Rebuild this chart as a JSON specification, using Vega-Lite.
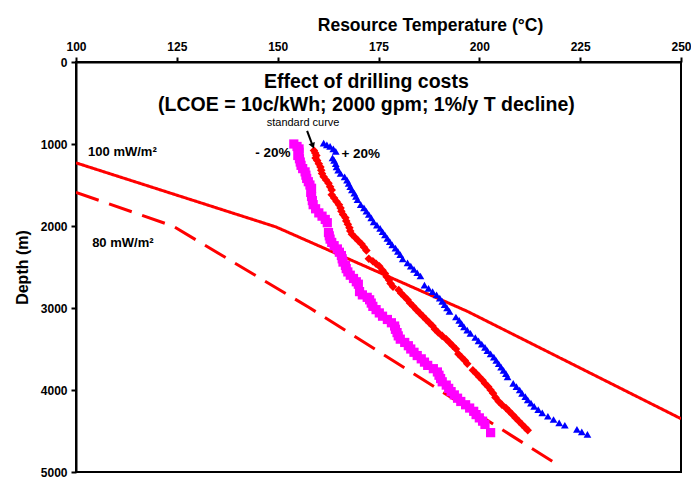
{
  "$schema": "https://vega.github.io/schema/vega-lite/v6.json",
  "width": 605,
  "height": 410,
  "autosize": {"type": "none"},
  "padding": {"left": 76, "top": 62, "right": 10, "bottom": 6},
  "config": {
    "font": "Liberation Sans",
    "view": {"stroke": "black", "strokeWidth": 2},
    "axis": {
      "grid": false,
      "domainColor": "black",
      "domainWidth": 2,
      "tickColor": "black",
      "tickWidth": 2,
      "tickSize": 5,
      "labelColor": "black",
      "labelFont": "Liberation Sans",
      "labelFontSize": 12,
      "labelFontWeight": "bold",
      "labelFlush": false,
      "titleColor": "black",
      "titleFont": "Liberation Sans",
      "titleFontWeight": "bold"
    }
  },
  "datasets": {
    "gradients": [
      {"curve": "100 mW/m2", "temp": 100, "depth": 1230},
      {"curve": "100 mW/m2", "temp": 149.5, "depth": 2010},
      {"curve": "100 mW/m2", "temp": 197, "depth": 3040},
      {"curve": "100 mW/m2", "temp": 250, "depth": 4350},
      {"curve": "80 mW/m2", "temp": 100, "depth": 1590},
      {"curve": "80 mW/m2", "temp": 124, "depth": 2000},
      {"curve": "80 mW/m2", "temp": 158, "depth": 3000},
      {"curve": "80 mW/m2", "temp": 220, "depth": 4930}
    ],
    "costs": [
      {"series": "-20%", "depth": 1000, "temp": 154.0},
      {"series": "-20%", "depth": 1030, "temp": 154.8},
      {"series": "-20%", "depth": 1060, "temp": 155.3},
      {"series": "-20%", "depth": 1100, "temp": 155.3},
      {"series": "-20%", "depth": 1140, "temp": 155.0},
      {"series": "-20%", "depth": 1180, "temp": 155.4},
      {"series": "-20%", "depth": 1220, "temp": 155.6},
      {"series": "-20%", "depth": 1260, "temp": 155.8},
      {"series": "-20%", "depth": 1300, "temp": 156.2},
      {"series": "-20%", "depth": 1340, "temp": 156.8},
      {"series": "-20%", "depth": 1380, "temp": 157.0},
      {"series": "-20%", "depth": 1420, "temp": 157.2},
      {"series": "-20%", "depth": 1460, "temp": 157.6},
      {"series": "-20%", "depth": 1500, "temp": 158.0},
      {"series": "-20%", "depth": 1540, "temp": 158.4},
      {"series": "-20%", "depth": 1590, "temp": 158.2},
      {"series": "-20%", "depth": 1640, "temp": 158.4},
      {"series": "-20%", "depth": 1690, "temp": 158.6},
      {"series": "-20%", "depth": 1740, "temp": 158.8},
      {"series": "-20%", "depth": 1790, "temp": 159.4},
      {"series": "-20%", "depth": 1840, "temp": 160.2},
      {"series": "-20%", "depth": 1880, "temp": 161.0},
      {"series": "-20%", "depth": 1920, "temp": 161.8},
      {"series": "-20%", "depth": 1960, "temp": 162.3},
      {"series": "-20%", "depth": 2080, "temp": 162.6},
      {"series": "-20%", "depth": 2120, "temp": 162.8},
      {"series": "-20%", "depth": 2160, "temp": 163.0},
      {"series": "-20%", "depth": 2200, "temp": 163.4},
      {"series": "-20%", "depth": 2240, "temp": 164.0},
      {"series": "-20%", "depth": 2280, "temp": 164.8},
      {"series": "-20%", "depth": 2320, "temp": 165.3},
      {"series": "-20%", "depth": 2360, "temp": 165.8},
      {"series": "-20%", "depth": 2400, "temp": 166.0},
      {"series": "-20%", "depth": 2440, "temp": 166.2},
      {"series": "-20%", "depth": 2480, "temp": 166.8},
      {"series": "-20%", "depth": 2520, "temp": 167.0},
      {"series": "-20%", "depth": 2560, "temp": 167.4},
      {"series": "-20%", "depth": 2600, "temp": 168.0},
      {"series": "-20%", "depth": 2640, "temp": 168.8},
      {"series": "-20%", "depth": 2680, "temp": 169.5},
      {"series": "-20%", "depth": 2710, "temp": 170.0},
      {"series": "-20%", "depth": 2800, "temp": 170.3},
      {"series": "-20%", "depth": 2840, "temp": 171.0},
      {"series": "-20%", "depth": 2870, "temp": 172.2},
      {"series": "-20%", "depth": 2900, "temp": 172.8},
      {"series": "-20%", "depth": 2940, "temp": 173.2},
      {"series": "-20%", "depth": 2980, "temp": 173.6},
      {"series": "-20%", "depth": 3020, "temp": 174.4},
      {"series": "-20%", "depth": 3060, "temp": 175.2},
      {"series": "-20%", "depth": 3100, "temp": 176.0},
      {"series": "-20%", "depth": 3140, "temp": 177.2},
      {"series": "-20%", "depth": 3180, "temp": 178.2},
      {"series": "-20%", "depth": 3220, "temp": 179.0},
      {"series": "-20%", "depth": 3260, "temp": 179.2},
      {"series": "-20%", "depth": 3300, "temp": 179.6},
      {"series": "-20%", "depth": 3340, "temp": 179.9},
      {"series": "-20%", "depth": 3380, "temp": 180.4},
      {"series": "-20%", "depth": 3420, "temp": 181.5},
      {"series": "-20%", "depth": 3460, "temp": 182.4},
      {"series": "-20%", "depth": 3500, "temp": 183.0},
      {"series": "-20%", "depth": 3540, "temp": 183.8},
      {"series": "-20%", "depth": 3580, "temp": 184.6},
      {"series": "-20%", "depth": 3620, "temp": 185.6},
      {"series": "-20%", "depth": 3660, "temp": 186.4},
      {"series": "-20%", "depth": 3700, "temp": 187.2},
      {"series": "-20%", "depth": 3740, "temp": 188.6},
      {"series": "-20%", "depth": 3780, "temp": 189.6},
      {"series": "-20%", "depth": 3820, "temp": 190.0},
      {"series": "-20%", "depth": 3860, "temp": 190.4},
      {"series": "-20%", "depth": 3900, "temp": 190.8},
      {"series": "-20%", "depth": 3940, "temp": 191.8},
      {"series": "-20%", "depth": 3980, "temp": 192.4},
      {"series": "-20%", "depth": 4020, "temp": 193.0},
      {"series": "-20%", "depth": 4060, "temp": 193.8},
      {"series": "-20%", "depth": 4100, "temp": 194.6},
      {"series": "-20%", "depth": 4140, "temp": 195.4},
      {"series": "-20%", "depth": 4180, "temp": 196.6},
      {"series": "-20%", "depth": 4220, "temp": 197.6},
      {"series": "-20%", "depth": 4260, "temp": 198.6},
      {"series": "-20%", "depth": 4300, "temp": 199.2},
      {"series": "-20%", "depth": 4340, "temp": 200.0},
      {"series": "-20%", "depth": 4380, "temp": 200.8},
      {"series": "-20%", "depth": 4420, "temp": 201.4},
      {"series": "-20%", "depth": 4520, "temp": 202.8},

      {"series": "standard", "depth": 1080, "temp": 159.0},
      {"series": "standard", "depth": 1110, "temp": 159.3},
      {"series": "standard", "depth": 1140, "temp": 159.6},
      {"series": "standard", "depth": 1170, "temp": 159.4},
      {"series": "standard", "depth": 1200, "temp": 159.8},
      {"series": "standard", "depth": 1240, "temp": 160.2},
      {"series": "standard", "depth": 1280, "temp": 160.6},
      {"series": "standard", "depth": 1320, "temp": 160.8},
      {"series": "standard", "depth": 1360, "temp": 161.0},
      {"series": "standard", "depth": 1400, "temp": 161.4},
      {"series": "standard", "depth": 1440, "temp": 162.0},
      {"series": "standard", "depth": 1480, "temp": 162.6},
      {"series": "standard", "depth": 1520, "temp": 163.0},
      {"series": "standard", "depth": 1560, "temp": 163.4},
      {"series": "standard", "depth": 1620, "temp": 163.4},
      {"series": "standard", "depth": 1660, "temp": 164.0},
      {"series": "standard", "depth": 1700, "temp": 164.6},
      {"series": "standard", "depth": 1740, "temp": 165.2},
      {"series": "standard", "depth": 1780, "temp": 165.6},
      {"series": "standard", "depth": 1820, "temp": 165.8},
      {"series": "standard", "depth": 1860, "temp": 166.2},
      {"series": "standard", "depth": 1900, "temp": 166.8},
      {"series": "standard", "depth": 1940, "temp": 167.0},
      {"series": "standard", "depth": 1980, "temp": 167.4},
      {"series": "standard", "depth": 2020, "temp": 167.8},
      {"series": "standard", "depth": 2060, "temp": 168.0},
      {"series": "standard", "depth": 2100, "temp": 168.4},
      {"series": "standard", "depth": 2140, "temp": 169.2},
      {"series": "standard", "depth": 2180, "temp": 170.0},
      {"series": "standard", "depth": 2220, "temp": 170.8},
      {"series": "standard", "depth": 2260, "temp": 171.4},
      {"series": "standard", "depth": 2300, "temp": 172.0},
      {"series": "standard", "depth": 2400, "temp": 172.6},
      {"series": "standard", "depth": 2430, "temp": 173.6},
      {"series": "standard", "depth": 2460, "temp": 174.4},
      {"series": "standard", "depth": 2490, "temp": 175.2},
      {"series": "standard", "depth": 2540, "temp": 176.0},
      {"series": "standard", "depth": 2580, "temp": 176.6},
      {"series": "standard", "depth": 2620, "temp": 177.0},
      {"series": "standard", "depth": 2660, "temp": 177.6},
      {"series": "standard", "depth": 2700, "temp": 178.0},
      {"series": "standard", "depth": 2740, "temp": 178.6},
      {"series": "standard", "depth": 2780, "temp": 180.0},
      {"series": "standard", "depth": 2820, "temp": 180.6},
      {"series": "standard", "depth": 2860, "temp": 181.4},
      {"series": "standard", "depth": 2900, "temp": 182.2},
      {"series": "standard", "depth": 2940, "temp": 182.8},
      {"series": "standard", "depth": 2980, "temp": 183.6},
      {"series": "standard", "depth": 3020, "temp": 184.4},
      {"series": "standard", "depth": 3060, "temp": 185.2},
      {"series": "standard", "depth": 3100, "temp": 186.0},
      {"series": "standard", "depth": 3140, "temp": 186.8},
      {"series": "standard", "depth": 3180, "temp": 187.6},
      {"series": "standard", "depth": 3220, "temp": 188.4},
      {"series": "standard", "depth": 3260, "temp": 189.0},
      {"series": "standard", "depth": 3300, "temp": 189.8},
      {"series": "standard", "depth": 3340, "temp": 190.8},
      {"series": "standard", "depth": 3380, "temp": 191.8},
      {"series": "standard", "depth": 3420, "temp": 192.6},
      {"series": "standard", "depth": 3460, "temp": 193.4},
      {"series": "standard", "depth": 3500, "temp": 194.2},
      {"series": "standard", "depth": 3560, "temp": 194.8},
      {"series": "standard", "depth": 3600, "temp": 195.6},
      {"series": "standard", "depth": 3640, "temp": 196.4},
      {"series": "standard", "depth": 3680, "temp": 197.0},
      {"series": "standard", "depth": 3760, "temp": 198.4},
      {"series": "standard", "depth": 3800, "temp": 199.2},
      {"series": "standard", "depth": 3840, "temp": 200.0},
      {"series": "standard", "depth": 3880, "temp": 200.8},
      {"series": "standard", "depth": 3920, "temp": 201.4},
      {"series": "standard", "depth": 3960, "temp": 202.2},
      {"series": "standard", "depth": 4000, "temp": 202.8},
      {"series": "standard", "depth": 4040, "temp": 203.4},
      {"series": "standard", "depth": 4090, "temp": 204.0},
      {"series": "standard", "depth": 4140, "temp": 204.8},
      {"series": "standard", "depth": 4180, "temp": 205.6},
      {"series": "standard", "depth": 4220, "temp": 206.6},
      {"series": "standard", "depth": 4260, "temp": 207.4},
      {"series": "standard", "depth": 4300, "temp": 208.2},
      {"series": "standard", "depth": 4340, "temp": 209.0},
      {"series": "standard", "depth": 4380, "temp": 209.8},
      {"series": "standard", "depth": 4420, "temp": 210.6},
      {"series": "standard", "depth": 4460, "temp": 211.4},
      {"series": "standard", "depth": 4490, "temp": 212.0},

      {"series": "+20%", "depth": 990, "temp": 161.4},
      {"series": "+20%", "depth": 1010, "temp": 162.2},
      {"series": "+20%", "depth": 1030, "temp": 163.0},
      {"series": "+20%", "depth": 1060, "temp": 163.8},
      {"series": "+20%", "depth": 1090, "temp": 164.4},
      {"series": "+20%", "depth": 1170, "temp": 163.6},
      {"series": "+20%", "depth": 1200, "temp": 164.0},
      {"series": "+20%", "depth": 1240, "temp": 164.4},
      {"series": "+20%", "depth": 1280, "temp": 164.6},
      {"series": "+20%", "depth": 1320, "temp": 165.0},
      {"series": "+20%", "depth": 1360, "temp": 165.6},
      {"series": "+20%", "depth": 1400, "temp": 166.6},
      {"series": "+20%", "depth": 1440, "temp": 167.2},
      {"series": "+20%", "depth": 1480, "temp": 167.6},
      {"series": "+20%", "depth": 1520, "temp": 168.0},
      {"series": "+20%", "depth": 1560, "temp": 168.4},
      {"series": "+20%", "depth": 1600, "temp": 169.0},
      {"series": "+20%", "depth": 1640, "temp": 169.4},
      {"series": "+20%", "depth": 1680, "temp": 169.8},
      {"series": "+20%", "depth": 1740, "temp": 170.6},
      {"series": "+20%", "depth": 1780, "temp": 171.4},
      {"series": "+20%", "depth": 1820, "temp": 172.0},
      {"series": "+20%", "depth": 1860, "temp": 172.6},
      {"series": "+20%", "depth": 1900, "temp": 173.2},
      {"series": "+20%", "depth": 1950, "temp": 173.8},
      {"series": "+20%", "depth": 1990, "temp": 174.6},
      {"series": "+20%", "depth": 2030, "temp": 175.4},
      {"series": "+20%", "depth": 2070, "temp": 176.0},
      {"series": "+20%", "depth": 2110, "temp": 176.6},
      {"series": "+20%", "depth": 2150, "temp": 177.2},
      {"series": "+20%", "depth": 2190, "temp": 177.8},
      {"series": "+20%", "depth": 2230, "temp": 178.4},
      {"series": "+20%", "depth": 2270, "temp": 179.2},
      {"series": "+20%", "depth": 2310, "temp": 179.8},
      {"series": "+20%", "depth": 2350, "temp": 180.4},
      {"series": "+20%", "depth": 2400, "temp": 181.0},
      {"series": "+20%", "depth": 2450, "temp": 182.2},
      {"series": "+20%", "depth": 2490, "temp": 183.0},
      {"series": "+20%", "depth": 2530, "temp": 183.8},
      {"series": "+20%", "depth": 2570, "temp": 184.6},
      {"series": "+20%", "depth": 2610, "temp": 185.4},
      {"series": "+20%", "depth": 2720, "temp": 186.4},
      {"series": "+20%", "depth": 2760, "temp": 187.4},
      {"series": "+20%", "depth": 2800, "temp": 188.4},
      {"series": "+20%", "depth": 2840, "temp": 189.4},
      {"series": "+20%", "depth": 2880, "temp": 190.2},
      {"series": "+20%", "depth": 2920, "temp": 190.8},
      {"series": "+20%", "depth": 2960, "temp": 191.4},
      {"series": "+20%", "depth": 3000, "temp": 192.0},
      {"series": "+20%", "depth": 3040, "temp": 192.6},
      {"series": "+20%", "depth": 3110, "temp": 194.2},
      {"series": "+20%", "depth": 3150, "temp": 195.0},
      {"series": "+20%", "depth": 3190, "temp": 195.6},
      {"series": "+20%", "depth": 3230, "temp": 196.2},
      {"series": "+20%", "depth": 3270, "temp": 197.0},
      {"series": "+20%", "depth": 3310, "temp": 197.8},
      {"series": "+20%", "depth": 3360, "temp": 199.0},
      {"series": "+20%", "depth": 3400, "temp": 199.8},
      {"series": "+20%", "depth": 3440, "temp": 200.6},
      {"series": "+20%", "depth": 3480, "temp": 201.4},
      {"series": "+20%", "depth": 3520, "temp": 202.0},
      {"series": "+20%", "depth": 3560, "temp": 202.8},
      {"series": "+20%", "depth": 3600, "temp": 203.6},
      {"series": "+20%", "depth": 3640, "temp": 204.2},
      {"series": "+20%", "depth": 3680, "temp": 204.8},
      {"series": "+20%", "depth": 3720, "temp": 205.4},
      {"series": "+20%", "depth": 3760, "temp": 206.0},
      {"series": "+20%", "depth": 3800, "temp": 206.6},
      {"series": "+20%", "depth": 3840, "temp": 207.0},
      {"series": "+20%", "depth": 3920, "temp": 208.4},
      {"series": "+20%", "depth": 3960, "temp": 209.2},
      {"series": "+20%", "depth": 4000, "temp": 210.0},
      {"series": "+20%", "depth": 4040, "temp": 210.6},
      {"series": "+20%", "depth": 4080, "temp": 211.4},
      {"series": "+20%", "depth": 4120, "temp": 212.0},
      {"series": "+20%", "depth": 4160, "temp": 212.8},
      {"series": "+20%", "depth": 4200, "temp": 213.6},
      {"series": "+20%", "depth": 4240, "temp": 214.6},
      {"series": "+20%", "depth": 4280, "temp": 215.6},
      {"series": "+20%", "depth": 4320, "temp": 217.0},
      {"series": "+20%", "depth": 4360, "temp": 218.4},
      {"series": "+20%", "depth": 4400, "temp": 219.8},
      {"series": "+20%", "depth": 4430, "temp": 221.2},
      {"series": "+20%", "depth": 4480, "temp": 224.2},
      {"series": "+20%", "depth": 4510, "temp": 225.4},
      {"series": "+20%", "depth": 4540, "temp": 226.8}
    ],
    "headings": [
      {"text": "Effect of drilling costs", "temp": 172, "depth": 245},
      {"text": "(LCOE = 10c/kWh; 2000 gpm; 1%/y T decline)", "temp": 172, "depth": 525}
    ],
    "curveNotes": [
      {"text": "100 mW/m²", "temp": 103, "depth": 1098},
      {"text": "80 mW/m²", "temp": 104, "depth": 2207}
    ],
    "seriesNotes": [
      {"text": "- 20%", "temp": 148.8, "depth": 1110},
      {"text": "+ 20%", "temp": 170.6, "depth": 1120}
    ],
    "standardNote": [
      {"text": "standard curve", "temp": 156.3, "depth": 744}
    ],
    "pointer": [
      {"temp": 157.3, "depth": 840, "temp2": 158.6, "depth2": 1010}
    ],
    "pointerTip": [
      {"temp": 158.7, "depth": 1022}
    ]
  },
  "encoding": {
    "x": {
      "field": "temp",
      "type": "quantitative",
      "scale": {"domain": [100, 250], "nice": false, "zero": false},
      "axis": {
        "orient": "top",
        "values": [100, 125, 150, 175, 200, 225, 250],
        "format": "d",
        "title": "Resource Temperature (°C)",
        "titleFontSize": 17.5,
        "titleX": 354,
        "titlePadding": 6,
        "labelPadding": 4
      }
    },
    "y": {
      "field": "depth",
      "type": "quantitative",
      "scale": {"domain": [0, 5000], "reverse": true, "nice": false, "zero": false},
      "axis": {
        "orient": "left",
        "values": [0, 1000, 2000, 3000, 4000, 5000],
        "format": "d",
        "title": "Depth (m)",
        "titleFontSize": 16,
        "titlePadding": 10,
        "labelPadding": 4
      }
    }
  },
  "layer": [
    {
      "data": {"name": "gradients"},
      "mark": {"type": "line", "color": "#FF0000", "strokeWidth": 3, "clip": true},
      "encoding": {
        "strokeDash": {
          "field": "curve",
          "type": "nominal",
          "scale": {"domain": ["100 mW/m2", "80 mW/m2"], "range": [[1, 0], [24, 11]]},
          "legend": null
        },
        "order": {"field": "depth", "type": "quantitative"}
      }
    },
    {
      "data": {"name": "costs"},
      "mark": {"type": "point", "filled": true, "opacity": 1, "strokeWidth": 0},
      "encoding": {
        "shape": {
          "field": "series",
          "type": "nominal",
          "scale": {"domain": ["-20%", "standard", "+20%"], "range": ["square", "diamond", "triangle-up"]},
          "legend": null
        },
        "color": {
          "field": "series",
          "type": "nominal",
          "scale": {"domain": ["-20%", "standard", "+20%"], "range": ["#FF00FF", "#FF0000", "#0000FF"]},
          "legend": null
        },
        "size": {
          "field": "series",
          "type": "nominal",
          "scale": {"domain": ["-20%", "standard", "+20%"], "range": [85, 60, 70]},
          "legend": null
        }
      }
    },
    {
      "data": {"name": "pointer"},
      "mark": {"type": "rule", "color": "black", "strokeWidth": 2},
      "encoding": {
        "x2": {"field": "temp2"},
        "y2": {"field": "depth2"}
      }
    },
    {
      "data": {"name": "pointerTip"},
      "mark": {"type": "point", "shape": "triangle-down", "filled": true, "color": "black", "opacity": 1, "size": 45, "angle": 339, "strokeWidth": 0}
    },
    {
      "data": {"name": "headings"},
      "mark": {"type": "text", "font": "Liberation Sans", "fontSize": 19.5, "fontWeight": "bold", "color": "black", "align": "center", "baseline": "middle"},
      "encoding": {"text": {"field": "text"}}
    },
    {
      "data": {"name": "curveNotes"},
      "mark": {"type": "text", "font": "Liberation Sans", "fontSize": 13, "fontWeight": "bold", "color": "black", "align": "left", "baseline": "middle"},
      "encoding": {"text": {"field": "text"}}
    },
    {
      "data": {"name": "seriesNotes"},
      "mark": {"type": "text", "font": "Liberation Sans", "fontSize": 13.5, "fontWeight": "bold", "color": "black", "align": "center", "baseline": "middle"},
      "encoding": {"text": {"field": "text"}}
    },
    {
      "data": {"name": "standardNote"},
      "mark": {"type": "text", "font": "Liberation Sans", "fontSize": 11, "color": "black", "align": "center", "baseline": "middle"},
      "encoding": {"text": {"field": "text"}}
    }
  ]
}
